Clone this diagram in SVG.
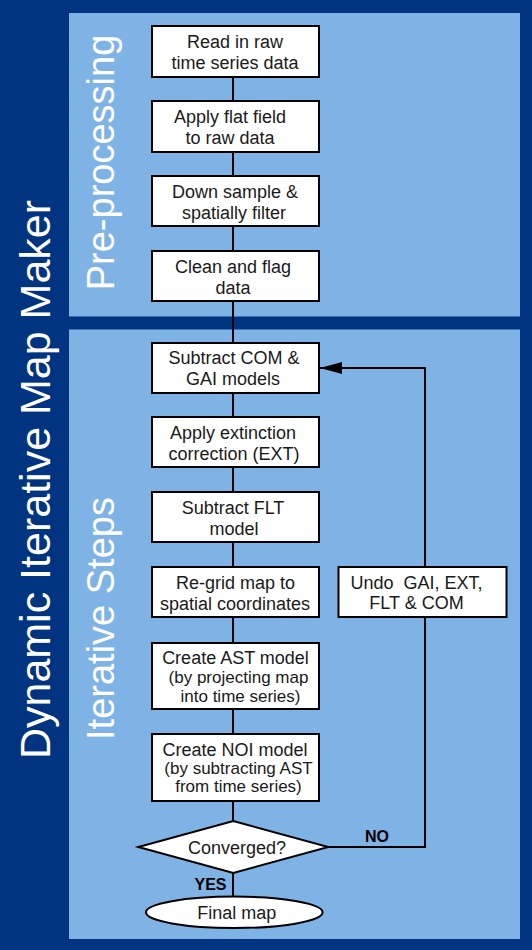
<svg xmlns="http://www.w3.org/2000/svg" width="532" height="950" viewBox="0 0 532 950">
<style>
.panel{fill:#80b3e5;}
.box{fill:#ffffff;stroke:#000;stroke-width:2;}
.t{font-family:"Liberation Sans",Arial,sans-serif;font-size:18px;fill:#1a1a1a;text-anchor:middle;white-space:pre;}
.s{font-size:17px;}
.lbl{font-family:"Liberation Sans",Arial,sans-serif;font-size:16px;font-weight:bold;fill:#000;text-anchor:middle;}
.big{font-family:"Liberation Sans",Arial,sans-serif;fill:#ffffff;text-anchor:middle;}
.c{fill:none;stroke:#000;stroke-width:2;}
</style>
<defs>
<marker id="arr" viewBox="0 0 22 12" refX="22" refY="6" markerWidth="22" markerHeight="12" markerUnits="userSpaceOnUse" orient="auto">
<path d="M0,0 L22,6 L0,12 Z" fill="#000"/>
</marker>
</defs>
<rect x="0" y="0" width="532" height="950" fill="#003380"/>
<g id="panel-pre">
<rect class="panel" x="69" y="13" width="451" height="303.5"/>
<text class="big" font-size="38" transform="translate(113.5,162.5) rotate(-90)">Pre-processing</text>
</g>
<g id="panel-iter">
<rect class="panel" x="69" y="329.5" width="451" height="609.5"/>
<text class="big" font-size="38" transform="translate(113.5,618.5) rotate(-90)">Iterative Steps</text>
</g>
<g id="title">
<text class="big" font-size="43" transform="translate(49.5,479.5) rotate(-90)">Dynamic Iterative Map Maker</text>
</g>
<g id="connectors">
<line class="c" x1="233" y1="77" x2="233" y2="101"/>
<line class="c" x1="233" y1="152" x2="233" y2="176"/>
<line class="c" x1="233" y1="226" x2="233" y2="251"/>
<line class="c" x1="233" y1="301" x2="233" y2="343"/>
<line class="c" x1="233" y1="393" x2="233" y2="417"/>
<line class="c" x1="233" y1="467" x2="233" y2="492"/>
<line class="c" x1="233" y1="542" x2="233" y2="567"/>
<line class="c" x1="233" y1="617" x2="233" y2="643"/>
<line class="c" x1="233" y1="709" x2="233" y2="734"/>
<line class="c" x1="233" y1="801" x2="233" y2="821"/>
<line class="c" x1="233" y1="873" x2="233" y2="897"/>
<polyline class="c" points="328,847 425,847 425,617"/>
<polyline class="c" points="425,567 425,368 320,368" marker-end="url(#arr)"/>
<text class="lbl" x="377" y="841.5">NO</text>
<text class="lbl" x="210.5" y="889.5">YES</text>
</g>
<g id="n1"><rect class="box" x="152" y="26" width="167" height="51"/>
<text class="t" x="235" y="48">Read in raw</text><text class="t" x="235" y="69">time series data</text></g>
<g id="n2"><rect class="box" x="152" y="101" width="167" height="51"/>
<text class="t" x="230" y="123">Apply flat field</text><text class="t" x="230" y="144">to raw data</text></g>
<g id="n3"><rect class="box" x="152" y="176" width="167" height="50"/>
<text class="t" x="235" y="198">Down sample &amp;</text><text class="t" x="234" y="219">spatially filter</text></g>
<g id="n4"><rect class="box" x="152" y="251" width="167" height="50"/>
<text class="t" x="233" y="273">Clean and flag</text><text class="t" x="233" y="294">data</text></g>
<g id="n5"><rect class="box" x="152" y="343" width="167" height="50"/>
<text class="t" x="234" y="364">Subtract COM &amp;</text><text class="t" x="233" y="385">GAI models</text></g>
<g id="n6"><rect class="box" x="152" y="417" width="167" height="50"/>
<text class="t" x="233" y="439">Apply extinction</text><text class="t" x="234" y="460">correction (EXT)</text></g>
<g id="n7"><rect class="box" x="152" y="492" width="167" height="50"/>
<text class="t" x="233" y="514">Subtract FLT</text><text class="t" x="234" y="535">model</text></g>
<g id="n8"><rect class="box" x="152" y="567" width="167" height="50"/>
<text class="t" x="235.5" y="588.5">Re-grid map to</text><text class="t" x="235" y="609.5">spatial coordinates</text></g>
<g id="n9"><rect class="box" x="152" y="643" width="167" height="66"/>
<text class="t" x="235.5" y="663.5">Create AST model</text><text class="t s" x="238.5" y="683">(by projecting map</text><text class="t s" x="240.5" y="701.5">into time series)</text></g>
<g id="n10"><rect class="box" x="152" y="734" width="167" height="67"/>
<text class="t" x="235" y="756">Create NOI model</text><text class="t s" x="238.5" y="774">(by subtracting AST</text><text class="t s" x="238.5" y="792">from time series)</text></g>
<g id="n11"><rect class="box" x="338.5" y="567" width="168" height="50"/>
<text class="t" x="416.5" y="588.5" xml:space="preserve">Undo  GAI, EXT,</text><text class="t" x="416.5" y="609">FLT &amp; COM</text></g>
<g id="n12"><polygon class="box" points="233.3,821 328.3,847 233.3,873 138.3,847"/>
<text class="t" x="237" y="854">Converged?</text></g>
<g id="n13"><ellipse class="box" cx="234.3" cy="912.3" rx="88.3" ry="15.7"/>
<text class="t" x="236.7" y="918.5">Final map</text></g>
</svg>
